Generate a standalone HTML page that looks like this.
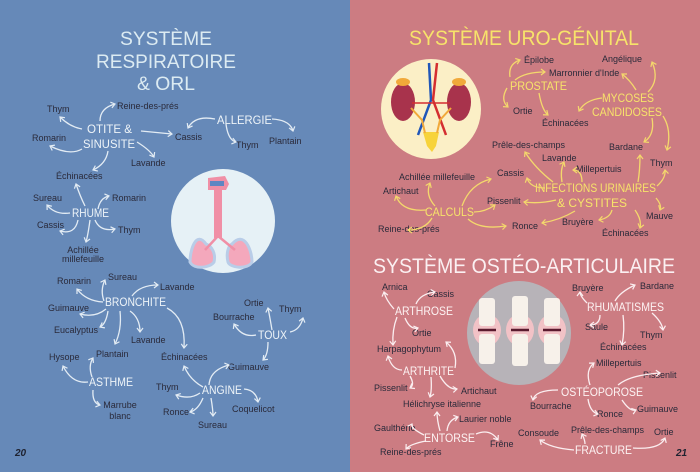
<!DOCTYPE html>
<html><head><meta charset="utf-8"><style>
html,body{margin:0;padding:0;width:700px;height:472px;overflow:hidden}
svg{display:block}
.l{font-family:"Liberation Sans",sans-serif;font-size:9px;fill:#2a2a3a}
.nb{font-family:"Liberation Sans",sans-serif;font-size:12px;fill:#eef4f8}
.ny{font-family:"Liberation Sans",sans-serif;font-size:12px;fill:#f7e36a}
.nw{font-family:"Liberation Sans",sans-serif;font-size:12px;fill:#fdf3f3}
.ab path{fill:none;stroke:#e3ecf4;stroke-width:1.3;marker-end:url(#mb)}
.ay path{fill:none;stroke:#f4d86c;stroke-width:1.3;marker-end:url(#my)}
.aw path{fill:none;stroke:#fbeef0;stroke-width:1.3;marker-end:url(#mw)}
</style></head><body>
<svg width="700" height="472" viewBox="0 0 700 472" xmlns="http://www.w3.org/2000/svg">
<defs>
<marker id="mb" markerWidth="8" markerHeight="8" refX="5" refY="4" orient="auto" markerUnits="userSpaceOnUse"><path d="M1,1 L5,4 L1,7" fill="none" stroke="#e3ecf4" stroke-width="1.2"/></marker>
<marker id="my" markerWidth="8" markerHeight="8" refX="5" refY="4" orient="auto" markerUnits="userSpaceOnUse"><path d="M1,1 L5,4 L1,7" fill="none" stroke="#f4d86c" stroke-width="1.2"/></marker>
<marker id="mw" markerWidth="8" markerHeight="8" refX="5" refY="4" orient="auto" markerUnits="userSpaceOnUse"><path d="M1,1 L5,4 L1,7" fill="none" stroke="#fbeef0" stroke-width="1.2"/></marker>
</defs>
<rect x="0" y="0" width="350" height="472" fill="#6689b8"/>
<rect x="350" y="0" width="350" height="472" fill="#cc7c82"/>

<!-- LEFT -->
<g font-family="Liberation Sans, sans-serif" font-size="19" fill="#dcebf2" text-anchor="middle">
<text x="166" y="45" textLength="92" lengthAdjust="spacingAndGlyphs">SYSTÈME</text>
<text x="166" y="68" textLength="140" lengthAdjust="spacingAndGlyphs">RESPIRATOIRE</text>
<text x="166" y="90" textLength="58" lengthAdjust="spacingAndGlyphs">&amp; ORL</text></g>

<circle cx="223" cy="221" r="52" fill="#e6f1f6"/>
<g>
<path d="M208,178 L225,176 L229,184 L226,190 L222,190 L222,238 L214,238 L214,190 L208,190 Z" fill="#f08fa6"/>
<path d="M210,181 L224,181 L224,186 L210,186 Z" fill="#5f86c2"/>
<path d="M206,244 C196,230 190,250 190,262 C194,270 210,268 214,262 C216,254 212,246 206,244Z" fill="#f4a8bc" stroke="#b9cde8" stroke-width="3"/>
<path d="M232,244 C244,230 252,250 252,262 C248,270 230,268 228,262 C226,254 228,246 232,244Z" fill="#f4a8bc" stroke="#b9cde8" stroke-width="3"/>
<path d="M218,236 L205,250 M218,236 L235,250" stroke="#f08fa6" stroke-width="2.5" fill="none"/>
</g>

<g class="l">
<text x="47" y="112">Thym</text><text x="117" y="109">Reine-des-prés</text>
<text x="32" y="141">Romarin</text><text x="131" y="166">Lavande</text>
<text x="56" y="179">Échinacées</text>
<text x="175" y="140">Cassis</text><text x="236" y="148">Thym</text><text x="269" y="144">Plantain</text>
<text x="33" y="201">Sureau</text><text x="112" y="201">Romarin</text>
<text x="37" y="228">Cassis</text><text x="118" y="233">Thym</text>
<text x="83" y="253" text-anchor="middle">Achillée</text><text x="83" y="262" text-anchor="middle">millefeuille</text>
<text x="57" y="284">Romarin</text><text x="108" y="280">Sureau</text><text x="160" y="290">Lavande</text>
<text x="48" y="311">Guimauve</text><text x="54" y="333">Eucalyptus</text><text x="131" y="343">Lavande</text>
<text x="96" y="357">Plantain</text><text x="49" y="360">Hysope</text><text x="161" y="360">Échinacées</text>
<text x="120" y="408" text-anchor="middle">Marrube</text><text x="120" y="419" text-anchor="middle">blanc</text>
<text x="244" y="306">Ortie</text><text x="279" y="312">Thym</text><text x="213" y="320">Bourrache</text>
<text x="228" y="370">Guimauve</text>
<text x="156" y="390">Thym</text><text x="163" y="415">Ronce</text><text x="198" y="428">Sureau</text><text x="232" y="412">Coquelicot</text>
</g>
<g class="nb">
<text x="87" y="133" textLength="45" lengthAdjust="spacingAndGlyphs">OTITE &amp;</text>
<text x="83" y="148" textLength="52" lengthAdjust="spacingAndGlyphs">SINUSITE</text>
<text x="217" y="124" textLength="55" lengthAdjust="spacingAndGlyphs">ALLERGIE</text>
<text x="72" y="217" textLength="37" lengthAdjust="spacingAndGlyphs">RHUME</text>
<text x="105" y="306" textLength="61" lengthAdjust="spacingAndGlyphs">BRONCHITE</text>
<text x="89" y="386" textLength="44" lengthAdjust="spacingAndGlyphs">ASTHME</text>
<text x="258" y="339" textLength="29" lengthAdjust="spacingAndGlyphs">TOUX</text>
<text x="202" y="394" textLength="40" lengthAdjust="spacingAndGlyphs">ANGINE</text>
</g>
<text x="15" y="456" font-family="Liberation Sans, sans-serif" font-style="italic" font-weight="bold" font-size="10" fill="#1e2230">20</text>

<g class="ab">
<path d="M100,121 Q100,108 115,104"/><path d="M82,129 Q70,127 60,117"/>
<path d="M82,149 Q70,156 50,146"/><path d="M137,142 Q150,150 154,157"/>
<path d="M108,151 Q106,164 93,170"/><path d="M141,131 L172,134"/>
<path d="M215,119 Q195,115 188,128"/><path d="M226,124 Q228,140 236,142"/>
<path d="M272,119 Q290,120 293,131"/>
<path d="M85,206 Q80,196 76,184"/><path d="M70,213 Q55,215 47,205"/>
<path d="M78,220 Q75,235 60,231"/><path d="M90,220 Q88,235 86,242"/>
<path d="M95,220 Q100,232 115,229"/><path d="M98,209 Q100,198 109,196"/>
<path d="M103,302 Q86,301 77,289"/><path d="M104,301 Q100,290 105,280"/>
<path d="M132,296 Q140,285 158,285"/><path d="M106,309 Q95,318 80,314"/>
<path d="M108,311 Q106,324 100,327"/><path d="M120,311 Q122,330 115,344"/>
<path d="M130,311 Q140,318 140,332"/><path d="M167,308 Q186,318 184,348"/>
<path d="M88,382 Q72,384 63,366"/><path d="M92,377 Q88,366 93,358"/>
<path d="M93,390 Q92,403 100,405"/>
<path d="M272,330 Q270,318 268,308"/><path d="M290,332 Q300,330 303,318"/>
<path d="M256,335 Q242,338 234,324"/><path d="M268,342 Q268,355 263,360"/>
<path d="M209,385 Q210,370 229,365"/><path d="M203,387 Q190,380 184,366"/>
<path d="M200,393 Q190,400 176,395"/><path d="M203,398 Q198,410 190,412"/>
<path d="M211,398 Q213,410 213,416"/><path d="M244,389 Q256,390 258,402"/>
</g>

<!-- RIGHT -->
<text x="524" y="45" text-anchor="middle" font-family="Liberation Sans, sans-serif" font-size="21" fill="#f7e36a" textLength="230" lengthAdjust="spacingAndGlyphs">SYSTÈME URO-GÉNITAL</text>
<text x="524" y="273" text-anchor="middle" font-family="Liberation Sans, sans-serif" font-size="21" fill="#fbf0f2" textLength="302" lengthAdjust="spacingAndGlyphs">SYSTÈME OSTÉO-ARTICULAIRE</text>

<circle cx="431" cy="109" r="50" fill="#fbefc6"/>
<g>
<ellipse cx="403" cy="102" rx="12" ry="19" fill="#a8334c"/><ellipse cx="459" cy="102" rx="12" ry="19" fill="#a8334c"/>
<ellipse cx="403" cy="82" rx="7" ry="4" fill="#f1a93a"/><ellipse cx="459" cy="82" rx="7" ry="4" fill="#f1a93a"/>
<path d="M423,132 L439,132 L436,146 L432,152 L427,146Z" fill="#f7d33a"/>
<path d="M429,63 L431,100 L418,135" stroke="#2056b8" stroke-width="2.5" fill="none"/>
<path d="M437,63 L433,100 L446,135" stroke="#d42e30" stroke-width="2.5" fill="none"/>
<path d="M412,103 L450,103" stroke="#d42e30" stroke-width="1.5"/>
<path d="M411,108 L422,120 L425,133 M451,108 L440,120 L437,133" stroke="#f1a93a" stroke-width="2" fill="none"/>
</g>

<circle cx="519" cy="333" r="52" fill="#b7b3b8"/>
<g fill="#f7f1ea">
<ellipse cx="487" cy="330" rx="14" ry="16" fill="#f2c2c6"/><ellipse cx="520" cy="330" rx="14" ry="16" fill="#f2c2c6"/><ellipse cx="552" cy="330" rx="14" ry="16" fill="#f2c2c6"/>
<rect x="479" y="298" width="16" height="28" rx="3"/><rect x="479" y="334" width="16" height="30" rx="3"/>
<rect x="512" y="296" width="16" height="30" rx="3"/><rect x="512" y="334" width="16" height="32" rx="3"/>
<rect x="544" y="298" width="16" height="28" rx="3"/><rect x="544" y="334" width="16" height="30" rx="3"/>
<path d="M478,330 L496,330 M511,330 L529,330 M543,330 L561,330" stroke="#5a1a2e" stroke-width="2.5"/>
</g>

<g class="l">
<text x="524" y="63">Épilobe</text><text x="549" y="76">Marronnier d'Inde</text><text x="602" y="62">Angélique</text>
<text x="513" y="114">Ortie</text><text x="542" y="126">Échinacées</text>
<text x="492" y="148">Prêle-des-champs</text><text x="609" y="150">Bardane</text>
<text x="542" y="161">Lavande</text><text x="650" y="166">Thym</text><text x="576" y="172">Millepertuis</text>
<text x="497" y="176">Cassis</text><text x="399" y="180">Achillée millefeuille</text><text x="383" y="194">Artichaut</text>
<text x="487" y="204">Pissenlit</text><text x="378" y="232">Reine-des-prés</text><text x="512" y="229">Ronce</text>
<text x="562" y="225">Bruyère</text><text x="646" y="219">Mauve</text><text x="602" y="236">Échinacées</text>
<text x="382" y="290">Arnica</text><text x="427" y="297">Cassis</text><text x="412" y="336">Ortie</text>
<text x="377" y="352">Harpagophytum</text><text x="374" y="391">Pissenlit</text><text x="461" y="394">Artichaut</text>
<text x="403" y="407">Hélichryse italienne</text><text x="459" y="422">Laurier noble</text>
<text x="374" y="431">Gaulthérie</text><text x="490" y="447">Frêne</text><text x="380" y="455">Reine-des-prés</text>
<text x="572" y="291">Bruyère</text><text x="640" y="289">Bardane</text><text x="585" y="330">Saule</text>
<text x="640" y="338">Thym</text><text x="600" y="350">Échinacées</text><text x="596" y="366">Millepertuis</text>
<text x="643" y="378">Pissenlit</text><text x="530" y="409">Bourrache</text><text x="597" y="417">Ronce</text>
<text x="637" y="412">Guimauve</text><text x="518" y="436">Consoude</text><text x="571" y="433">Prêle-des-champs</text>
<text x="654" y="435">Ortie</text>
</g>
<g class="ny">
<text x="510" y="90" textLength="57" lengthAdjust="spacingAndGlyphs">PROSTATE</text>
<text x="602" y="102" textLength="52" lengthAdjust="spacingAndGlyphs">MYCOSES</text>
<text x="592" y="116" textLength="70" lengthAdjust="spacingAndGlyphs">CANDIDOSES</text>
<text x="535" y="192" textLength="121" lengthAdjust="spacingAndGlyphs">INFECTIONS URINAIRES</text>
<text x="557" y="207" textLength="70" lengthAdjust="spacingAndGlyphs">&amp; CYSTITES</text>
<text x="425" y="216" textLength="49" lengthAdjust="spacingAndGlyphs">CALCULS</text>
</g>
<g class="nw">
<text x="395" y="315" textLength="58" lengthAdjust="spacingAndGlyphs">ARTHROSE</text>
<text x="403" y="375" textLength="51" lengthAdjust="spacingAndGlyphs">ARTHRITE</text>
<text x="424" y="442" textLength="51" lengthAdjust="spacingAndGlyphs">ENTORSE</text>
<text x="587" y="311" textLength="77" lengthAdjust="spacingAndGlyphs">RHUMATISMES</text>
<text x="561" y="396" textLength="82" lengthAdjust="spacingAndGlyphs">OSTÉOPOROSE</text>
<text x="575" y="454" textLength="57" lengthAdjust="spacingAndGlyphs">FRACTURE</text>
</g>
<text x="676" y="456" font-family="Liberation Sans, sans-serif" font-style="italic" font-weight="bold" font-size="10" fill="#1e2230">21</text>

<g class="ay">
<path d="M510,77 Q508,64 520,60"/><path d="M515,80 Q525,72 545,72"/>
<path d="M507,88 Q500,100 508,107"/><path d="M539,93 Q542,110 548,115"/>
<path d="M602,98 Q585,100 579,111"/><path d="M648,92 Q660,80 652,62"/><path d="M636,90 Q630,80 622,74"/>
<path d="M652,118 Q655,135 644,142"/><path d="M663,116 Q672,130 667,150"/>
<path d="M553,182 Q535,168 525,152"/><path d="M562,182 Q560,170 564,162"/>
<path d="M582,182 Q582,170 573,170"/><path d="M545,188 Q530,188 527,178"/>
<path d="M657,186 Q666,178 665,170"/><path d="M638,182 Q640,170 640,155"/>
<path d="M656,198 Q662,205 660,210"/><path d="M635,210 Q642,220 640,228"/>
<path d="M612,210 Q610,218 599,220"/><path d="M556,200 Q540,204 524,202"/>
<path d="M575,211 Q560,220 542,223"/>
<path d="M426,210 Q402,212 396,196"/><path d="M435,206 Q425,195 430,183"/>
<path d="M462,206 Q470,184 491,179"/><path d="M474,212 Q485,212 495,205"/>
<path d="M468,219 Q480,230 506,226"/><path d="M432,218 Q425,230 408,230"/>
</g>

<g class="aw">
<path d="M394,309 Q386,300 384,292"/><path d="M416,304 Q420,294 435,292"/>
<path d="M397,317 Q392,330 393,345"/><path d="M405,318 Q410,330 418,328"/>
<path d="M402,370 Q392,370 388,356"/><path d="M455,368 Q458,352 446,342"/>
<path d="M410,376 Q415,385 410,388"/><path d="M431,377 Q432,390 430,397"/>
<path d="M440,376 Q448,390 457,389"/>
<path d="M424,435 Q410,428 412,424"/><path d="M440,431 Q437,420 437,412"/>
<path d="M447,431 Q448,420 458,417"/><path d="M476,434 Q490,428 498,440"/>
<path d="M426,441 Q410,444 406,449"/>
<path d="M587,303 Q580,296 580,292"/><path d="M615,301 Q620,292 635,285"/>
<path d="M600,315 Q600,325 590,325"/><path d="M623,315 Q625,330 622,345"/>
<path d="M652,313 Q662,322 663,330"/>
<path d="M590,385 Q585,370 594,363"/><path d="M618,385 Q630,375 660,373"/>
<path d="M558,390 Q535,390 533,400"/><path d="M588,399 Q590,412 598,414"/>
<path d="M622,400 Q630,412 636,410"/>
<path d="M574,450 Q550,448 540,440"/><path d="M585,444 Q585,440 582,434"/>
<path d="M633,448 Q660,450 665,438"/>
</g>
</svg>
</body></html>
